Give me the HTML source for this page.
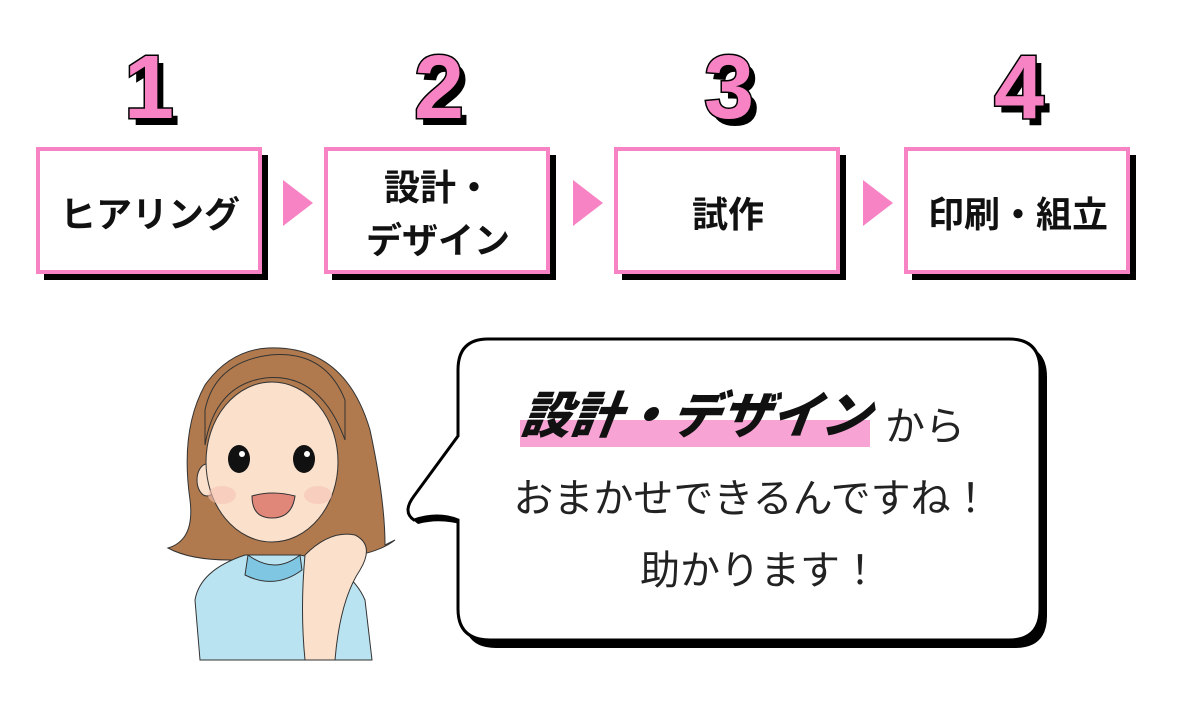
<!DOCTYPE html>
<html><head><meta charset="utf-8"><style>
html,body{margin:0;padding:0;background:#fff;}
body{width:1200px;height:707px;overflow:hidden;}
text{font-family:"Liberation Sans","Noto Sans CJK JP",sans-serif;}
</style></head><body>
<svg width="1200" height="707" viewBox="0 0 1200 707" xmlns="http://www.w3.org/2000/svg">
<g font-weight="900" font-size="90" text-anchor="middle">
  <g fill="#000"><text x="155" y="125">1</text><text x="445" y="125">2</text><text x="735" y="125">3</text><text x="1025" y="125">4</text></g>
  <g fill="#f783c4" stroke="#000" stroke-width="3" paint-order="stroke"><text x="149" y="118">1</text><text x="439" y="118">2</text><text x="729" y="118">3</text><text x="1019" y="118">4</text></g>
</g>
<g>
  <rect x="44" y="155" width="224" height="125" fill="#000"/>
  <rect x="38" y="149" width="222" height="123" fill="#fff" stroke="#f783c4" stroke-width="4"/>
  <rect x="332" y="155" width="224" height="125" fill="#000"/>
  <rect x="326" y="149" width="222" height="123" fill="#fff" stroke="#f783c4" stroke-width="4"/>
  <rect x="622" y="155" width="224" height="125" fill="#000"/>
  <rect x="616" y="149" width="222" height="123" fill="#fff" stroke="#f783c4" stroke-width="4"/>
  <rect x="912" y="155" width="224" height="125" fill="#000"/>
  <rect x="906" y="149" width="222" height="123" fill="#fff" stroke="#f783c4" stroke-width="4"/>
  <polygon points="283,180 313,203 283,226" fill="#f783c4"/>
  <polygon points="573,180 603,203 573,226" fill="#f783c4"/>
  <polygon points="863,180 893,203 863,226" fill="#f783c4"/>
</g>
<g font-size="36" font-weight="700" fill="#111" text-anchor="middle">
  <text x="150" y="227">ヒアリング</text>
  <text x="438" y="200">設計・</text>
  <text x="438" y="253">デザイン</text>
  <text x="728" y="227">試作</text>
  <text x="1018" y="227">印刷・組立</text>
</g>
<!-- bubble -->
<path d="M494,345 H1015 Q1047,345 1047,377 V616 Q1047,648 1015,648 H496 Q464,648 464,616 V525 Q440,518 418,524 Q405,515 420,500 Q440,470 464,440 V377 Q464,345 494,345 Z" fill="#000"/>
<path d="M488,339 H1009 Q1040,339 1040,370 V609 Q1040,640 1009,640 H490 Q458,640 458,609 V520 Q438,512 414,520 Q402,512 414,496 Q436,466 458,436 V370 Q458,339 488,339 Z" fill="#fff" stroke="#000" stroke-width="3"/>
<rect x="520" y="420" width="350" height="27" fill="#f7a3d4"/>
<text x="695" y="433" font-size="50" font-weight="900" font-style="italic" fill="#111" text-anchor="middle" transform="skewX(-8) translate(60,0)">設計・デザイン</text>
<g font-size="40" fill="#222" text-anchor="middle">
  <text x="925" y="440">から</text>
  <text x="752" y="512">おまかせできるんですね！</text>
  <text x="760" y="584">助かります！</text>
</g>
<!-- person -->
<g stroke="#333" stroke-width="1">
  <path d="M268,348 Q345,345 370,430 Q385,500 385,545 L395,540 Q370,560 300,560 L230,560 Q190,560 168,548 Q195,540 190,500 Q180,430 205,385 Q230,350 268,348 Z" fill="#b07a4e"/>
  <path d="M195,600 Q200,570 245,555 L300,555 Q350,565 365,600 L372,660 L200,660 Z" fill="#b9e3f0"/>
  <path d="M248,555 Q275,575 300,555 L302,570 Q275,590 245,575 Z" fill="#7fc6e2"/>
  <ellipse cx="207" cy="480" rx="10" ry="16" fill="#fbe0cc"/>
  <ellipse cx="272" cy="462" rx="66" ry="80" fill="#fbe0cc"/>
  <path d="M205,445 Q215,385 265,378 Q320,372 345,440 L345,400 Q325,350 270,355 Q215,362 205,410 Z" fill="#b07a4e"/>
  <path d="M305,555 Q330,530 355,535 Q375,545 360,570 Q340,600 335,660 L305,660 Q300,610 305,555 Z" fill="#fbe0cc"/>
</g>
<ellipse cx="239" cy="459" rx="11" ry="14" fill="#111"/>
<ellipse cx="304" cy="459" rx="11" ry="14" fill="#111"/>
<circle cx="242" cy="454" r="3" fill="#fff"/><circle cx="307" cy="454" r="3" fill="#fff"/>
<ellipse cx="222" cy="495" rx="14" ry="9" fill="#f7c3b4" opacity=".6"/>
<ellipse cx="318" cy="495" rx="14" ry="9" fill="#f7c3b4" opacity=".6"/>
<path d="M252,496 Q272,490 295,496 Q292,518 272,518 Q252,518 252,496 Z" fill="#e0877a" stroke="#333" stroke-width="1"/>
</svg>
</body></html>
